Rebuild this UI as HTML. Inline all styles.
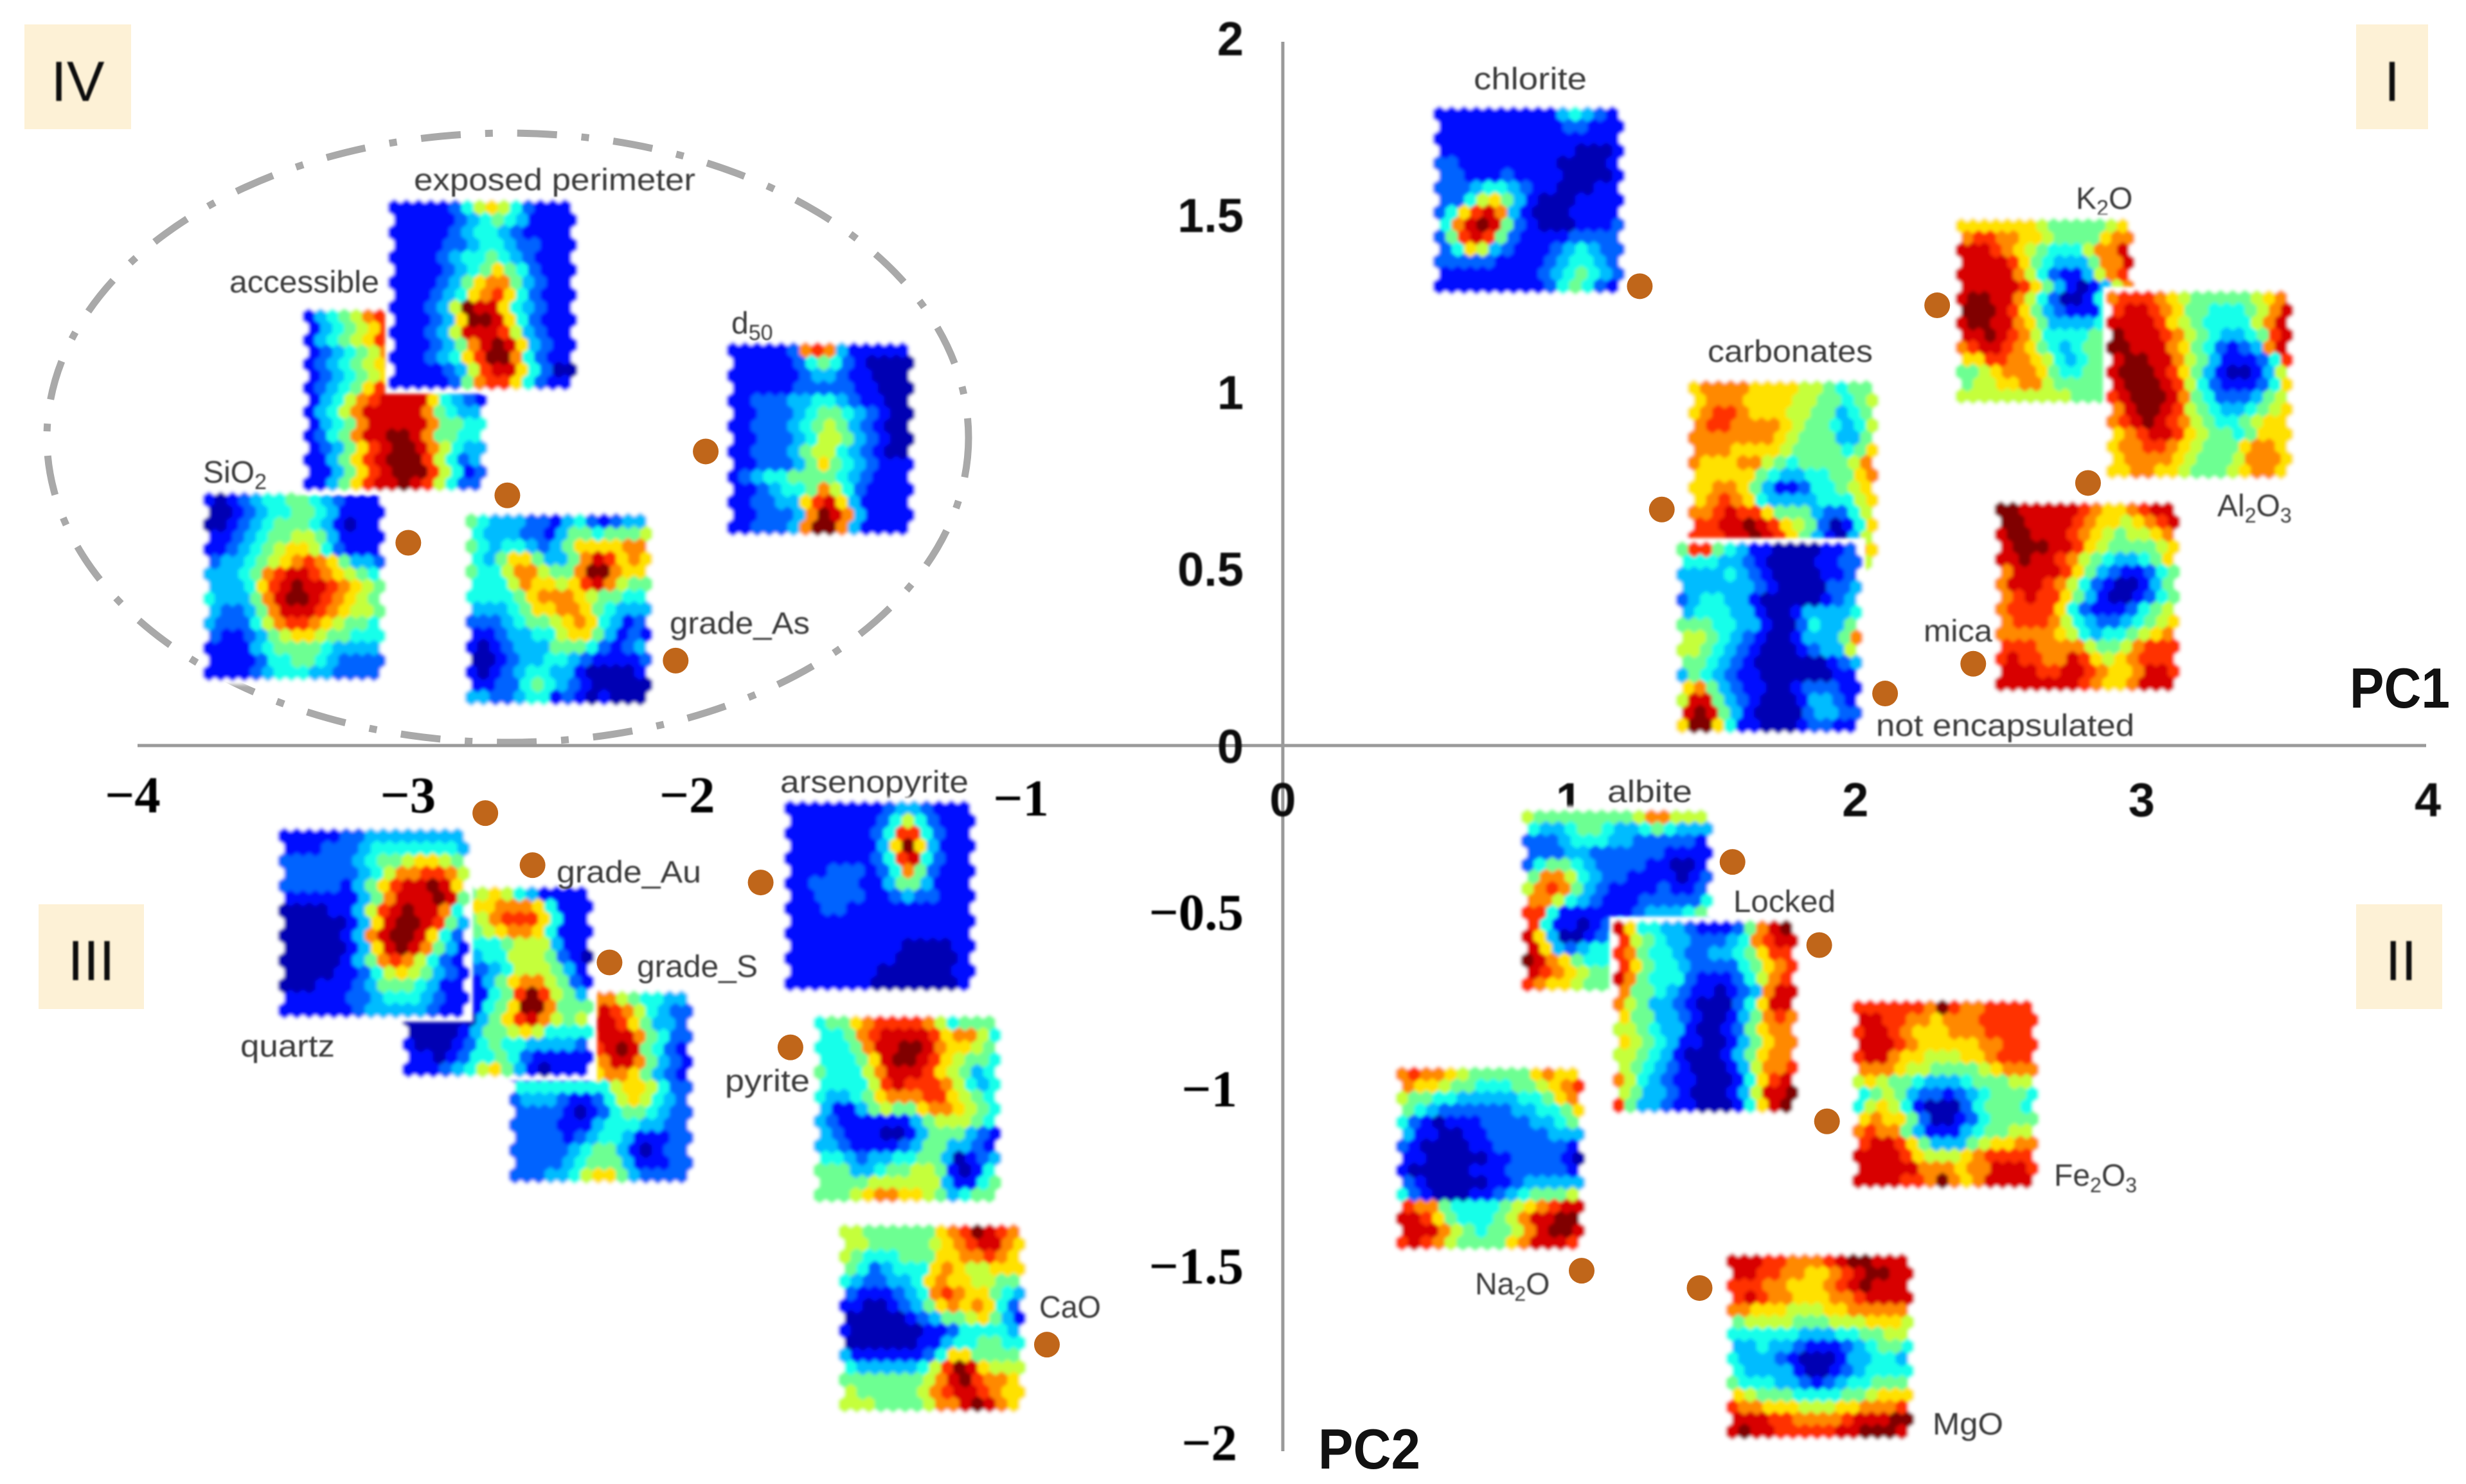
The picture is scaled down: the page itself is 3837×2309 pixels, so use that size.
<!DOCTYPE html>
<html lang="en">
<head>
<meta charset="utf-8">
<title>PC1 PC2 biplot with SOM component planes</title>
<style>
html,body{margin:0;padding:0;background:#fff}
svg{display:block}
.lbl{font-family:"Liberation Sans",sans-serif;font-size:48px;fill:#3a3a3a}
.roman{font-family:"Liberation Sans",sans-serif;font-size:88px;fill:#111;text-anchor:middle}
.pc{font-family:"Liberation Sans",sans-serif;font-weight:bold;font-size:88px;fill:#111}
.tick-pos{font-family:"Liberation Sans",sans-serif;font-weight:bold;font-size:74px;fill:#111}
.tick-neg{font-family:"Liberation Serif",serif;font-weight:bold;font-size:81px;fill:#000}
</style>
</head>
<body>
<svg id="chart" xmlns="http://www.w3.org/2000/svg" width="3837" height="2309" viewBox="0 0 3837 2309">
  <defs>
    <filter id="soft" x="-5%" y="-5%" width="110%" height="110%"><feGaussianBlur stdDeviation="2.6"/></filter>
    <filter id="softText" x="-5%" y="-15%" width="110%" height="130%"><feGaussianBlur stdDeviation="1"/></filter>
  </defs>
  <rect width="3837" height="2309" fill="#fff"/>

  <rect x="38" y="38" width="166" height="163" fill="#fdf1d6"/>
  <rect x="3666" y="38" width="112" height="163" fill="#fdf1d6"/>
  <rect x="60" y="1407" width="164" height="163" fill="#fdf1d6"/>
  <rect x="3666" y="1407" width="134" height="163" fill="#fdf1d6"/>
  <g filter="url(#softText)">
    <text class="roman" x="121" y="157">IV</text>
    <text class="roman" x="3722" y="157">I</text>
    <text class="roman" x="142" y="1525">III</text>
    <text class="roman" x="3736" y="1525">II</text>
  </g>

  <ellipse cx="790" cy="681" rx="717" ry="474" fill="none" stroke="#a9a9a9" stroke-width="11" stroke-dasharray="62 38 12 38"/>
  <line x1="214" y1="1160" x2="3775" y2="1160" stroke="#9a9a9a" stroke-width="5"/>
  <line x1="1996" y1="65" x2="1996" y2="2258" stroke="#9a9a9a" stroke-width="5"/>

  <g id="ticks" filter="url(#softText)"></g>

  <g filter="url(#softText)">
    <text class="lbl" x="3230" y="325">K<tspan dy="10" font-size="34">2</tspan><tspan dy="-10">O</tspan></text>
    <text class="lbl" x="1214" y="1233" textLength="293" lengthAdjust="spacingAndGlyphs">arsenopyrite</text>
  </g>

  <g id="maps"></g>

  <g id="labels" filter="url(#softText)">
    <text class="lbl" x="644" y="296" textLength="438" lengthAdjust="spacingAndGlyphs">exposed perimeter</text>
    <text class="lbl" x="357" y="455" textLength="233" lengthAdjust="spacingAndGlyphs">accessible</text>
    <text class="lbl" x="1138" y="519">d<tspan dy="10" font-size="34">50</tspan></text>
    <text class="lbl" x="316" y="751">SiO<tspan dy="10" font-size="34">2</tspan></text>
    <text class="lbl" x="1042" y="986" textLength="218" lengthAdjust="spacingAndGlyphs">grade_As</text>
    <text class="lbl" x="2293" y="139" textLength="176" lengthAdjust="spacingAndGlyphs">chlorite</text>
    <text class="lbl" x="2657" y="563" textLength="257" lengthAdjust="spacingAndGlyphs">carbonates</text>
    <text class="lbl" x="3450" y="803" font-size="46">Al<tspan dy="10" font-size="32">2</tspan><tspan dy="-10">O</tspan><tspan dy="10" font-size="32">3</tspan></text>
    <text class="lbl" x="2993" y="998" textLength="107" lengthAdjust="spacingAndGlyphs">mica</text>
    <text class="lbl" x="2919" y="1145" textLength="402" lengthAdjust="spacingAndGlyphs">not encapsulated</text>
    <text class="lbl" x="866" y="1373" textLength="225" lengthAdjust="spacingAndGlyphs">grade_Au</text>
    <text class="lbl" x="991" y="1520" textLength="188" lengthAdjust="spacingAndGlyphs">grade_S</text>
    <text class="lbl" x="374" y="1644" textLength="147" lengthAdjust="spacingAndGlyphs">quartz</text>
    <text class="lbl" x="1128" y="1698" textLength="132" lengthAdjust="spacingAndGlyphs">pyrite</text>
    <text class="lbl" x="1617" y="2050" textLength="96" lengthAdjust="spacingAndGlyphs">CaO</text>
    <text class="lbl" x="2501" y="1248" textLength="132" lengthAdjust="spacingAndGlyphs">albite</text>
    <text class="lbl" x="2697" y="1419" textLength="159" lengthAdjust="spacingAndGlyphs">Locked</text>
    <text class="lbl" x="3196" y="1845" font-size="46">Fe<tspan dy="10" font-size="32">2</tspan><tspan dy="-10">O</tspan><tspan dy="10" font-size="32">3</tspan></text>
    <text class="lbl" x="2295" y="2014" font-size="46">Na<tspan dy="10" font-size="32">2</tspan><tspan dy="-10">O</tspan></text>
    <text class="lbl" x="3007" y="2232" textLength="110" lengthAdjust="spacingAndGlyphs">MgO</text>
  </g>

  <g id="dots"></g>

  <text class="pc" x="3656" y="1101" textLength="156" lengthAdjust="spacingAndGlyphs">PC1</text>
  <text class="pc" x="2051" y="2285" textLength="159" lengthAdjust="spacingAndGlyphs">PC2</text>
</svg>

<script>
// Axis tick values
const xTickValues = [-4, -3, -2, -1, 0, 1, 2, 3, 4];
const yTickValues = [2, 1.5, 1, 0.5, 0, -0.5, -1, -1.5, -2];

// PCA loadings
const loadingNames = ['exposed-perimeter','sio2','d50','grade-as','chlorite','k2o','carbonates','al2o3','mica','not-encapsulated','quartz','grade-au','grade-s','arsenopyrite','pyrite','cao','albite','locked','fe2o3','na2o','mgo'];
const pc1Scores = [-2.709,-3.055,-2.016,-2.121,1.247,2.286,1.324,2.813,2.412,2.104,-2.786,-2.621,-2.352,-1.824,-1.72,-0.824,1.571,1.874,1.901,1.044,1.456];
const pc2Scores = [0.707,0.573,0.831,0.24,1.298,1.244,0.667,0.742,0.231,0.147,-0.191,-0.338,-0.613,-0.387,-0.853,-1.693,-0.329,-0.564,-1.062,-1.484,-1.533];

// SOM component planes: 15 rows of 15 levels, base-12 digits (0 low .. b high)
const chloriteGrid = ["111111111134321","111111111122111","111111111111111","111111111110001","221111111100001","221112111100001","222344321100011","224675310001111","2479a8310001111","48aba5210001112","259a95211112222","247632111234322","222221111234432","111111112345432","111111111245421"];
const carbonatesGrid = ["788887777665455","788877776655456","789987776655345","899888876554346","888888876555335","888777765555457","877788654555568","777775433445578","778875311244567","789874333344467","889a99755532246","99aaba976520147","999aaba97531036","888888888888887","777777777777776"];
const notEncapsulatedGrid = ["599543110000112","444332100001122","333343210000112","333333210000223","234433100000123","344433100133334","555443310024335","665432100133358","665432100012336","554321000000123","354321100000011","785321100122211","6aa532100013321","aba531000023322","7bb741100012211"];
const k2oGrid = ["777777765555567","899887765555788","aaa98765444688a","aaaa9754333588a","aaaaa8642113689","aaaaa9753101368","abbaa8642001467","bbba97532111456","abbaa8753333455","aaba98644445555","89aa98754345555","779988764345555","556788875445555","566778865555555","666666666655555"];
const al2o3Grid = ["899987655555678","9aa98755444568a","aaaa9765444468a","baaa9865433459a","bbaaa875421238a","abbaa8653111249","abbba9753100136","abbba9642111247","9abbba854222356","8abba9654334567","89aba9865445677","789aa9765545777","788998765557887","788887655568887","778877655567887"];
const micaGrid = ["bbaaaaa987789aa","bbaaaa98776789a","abbaaa987656678","abbbaa976555567","aabaa9865433457","8aaaa9753211245","8aaa98642100135","89a997531001245","899997421112456","899986432234567","888887643445678","999888865568999","9a9988a97678999","aaa99aa98778aa9","aaaaaaa98778aaa"];
const exposedPerimeterGrid = ["111112467642111","111112345431111","111112344321111","111122344322111","111123445432111","111123457542111","111123578853211","111234789742111","111236baa743211","111237bba742111","111236aaa963211","1112358aba73211","11123479bb84211","11112369aa74200","111112589974211"];
const accessibleGrid = ["1345689aaa85432","1345679aaa85432","1345679aaa85432","1234568aaa85432","1234567aaa85432","1234567aaa85432","1234579aaa95321","134689aaaa74321","13468aaaaa85433","13458aaaaa85544","12458aabba85544","123579abba86433","113579abbb96423","113579abbb96412","113579aaba96422"];
const d50Grid = ["111112898311111","111112454210000","111111233211000","111112222211000","112223344321100","112223455432100","112223456532100","112223466532100","112223566432100","112223575432111","123445555432111","112344586421111","11223379a731111","1122238ba831111","1122238bb831111"];
const sio2Grid = ["101234455432111","001234455431111","001234555431011","112345566531111","112345677642111","233456789875332","3334589aa987654","333479abaa98765","433358abba98765","322358aaa987665","322246899876554","211235677655444","111134555543333","111124455432222","111123444332222"];
const gradeAsGrid = ["543332213421233","433322135545556","543443235777788","4357753358a9787","5446886558bb877","4446877679a8655","444457888765544","333457788754333","222345567874312","112334467753121","101233355542123","001233443211112","101234433100001","112245432100000","332234412101000"];
const quartzGrid = ["111112233333333","111222344444443","222222345567765","222222346889986","2222213579aaba7","111111358aaaba5","000011369abaa84","00000137abba953","00000138abba742","00000137aba8531","000001358986421","000011246765321","000111235554311","111112234443211","111111233333211"];
const gradeAuGrid = ["555555676431111","555557788874111","555555689997411","555555678874111","444444445666311","333333446665210","222222234666531","111111357886521","1111111459b9653","111111457bb8555","0000003579a8656","000013556764444","100012454433332","110124454211111","111234675310111"];
const gradeSGrid = ["111111188654433","1111118a9864322","1111111aa975332","1111119aaa85422","11111119aba5421","11111178aa85321","111111178875321","444444446776422","233321124676432","222210124554322","222211134443322","222212344311122","222223455310122","222234555311122","222334677532222"];
const arsenopyriteGrid = ["111111112332111","111111124642111","111111124994211","111111137b73111","1111111249a4211","111222124852111","112222113553111","112222112322111","111221111111111","111111111111111","111111111111111","111111111000011","111111111000001","111111100000011","111111100000001"];
const pyriteGrid = ["455789999864555","44589aaaa978864","44458aabba87765","44457abba976554","544468aaa976534","444469a99986434","433457888997654","311356557887654","321111113566654","321110013555321","332111123553321","443233445530123","555334556651014","555566666631145","555678877653455"];
const caoGrid = ["66555555789ba98","66555556789aa87","654445557788987","542344478766777","432233478776655","211123489877543","110012357878742","000001235567531","100000011244443","000000113445544","311111124775555","433333469ba7666","555555568ab9887","655555689aa9877","6665555688aba87"];
const albiteGrid = ["655555555688666","433455433454333","222344433222221","222332222221111","245543222211001","588643221111012","689853211112112","886432111222224","994111111233345","941101233333333","a73001233333333","a73234444444444","ba8754444444444","a98765555555555","987765555555555"];
const lockedGrid = ["a744332111258ab","9654332223489aa","985443223345799","975443222245789","a85444211124689","8554321101238aa","8653321000247aa","755332100135898","665433100125788","765431100135788","665431000135788","654321000136889","86432110001479a","653321000136aab","9533211000147ab"];
const fe2o3Grid = ["9999998b9889999","aa9988788899999","9aa987778889999","aaa987777788999","9aa877666778999","888766555567888","676554333455566","456532212345554","467641000245554","787752001245555","898853111345566","9aa975333567788","aaaa97666789999","aaaaa888788aaa9","aaaa998b878aaaa"];
const na2oGrid = ["898876555557877","877655444556789","655443333344578","543222222334457","421011122223345","311001122222333","210000112222221","110000011222210","100000111222221","210000011233333","421000112345556","9885444456789aa","aa975444568aabb","aaa86545568abba","9a986555578aaa9"];
const mgoGrid = ["aaa998889abbaaa","aa99887789abbaa","9998877789abaaa","9a988777889aaaa","887776667788888","566665556667776","444444333445566","334332111234554","433321000133443","433331001234444","544433212344555","765554444556777","988777666778889","aaa9988889aaabb","abaa99999aabbba"];

const SVGNS = 'http://www.w3.org/2000/svg';

// Axis functions
function xScale(v) { return 1996 + v * 445.4; }
function yScale(v) { return 1160 - v * 550.6; }

function jet(t) {
  const c = function (x) { return Math.round(255 * Math.max(0, Math.min(1, x))); };
  return 'rgb(' + c(1.5 - Math.abs(4 * t - 3)) + ',' + c(1.5 - Math.abs(4 * t - 2)) + ',' + c(1.5 - Math.abs(4 * t - 1)) + ')';
}

function drawTicks() {
  const g = document.getElementById('ticks');
  const xNudge = { '-4': -8, '-3': -25, '-2': -36, '-1': 38 };
  xTickValues.forEach(function (v) {
    const el = document.createElementNS(SVGNS, 'text');
    
    
    el.setAttribute('class', v < 0 ? 'tick-neg' : 'tick-pos');
    el.setAttribute('text-anchor', 'middle');
    el.setAttribute('x', xScale(v) + (xNudge[v] || 0));
    el.setAttribute('y', v === -1 ? 1269 : (v < 0 ? 1264 : 1270));
    el.textContent = v < 0 ? '\u2212' + Math.abs(v) : String(v);
    g.appendChild(el);
  });
  yTickValues.forEach(function (v) {
    const el = document.createElementNS(SVGNS, 'text');
    
    
    el.setAttribute('class', v < 0 ? 'tick-neg' : 'tick-pos');
    el.setAttribute('text-anchor', 'end');
    el.setAttribute('x', v === -1 || v === -2 ? 1925 : 1935);
    el.setAttribute('y', yScale(v) + (v < 0 ? 11 : 27));
    el.textContent = v < 0 ? '\u2212' + Math.abs(v) : String(v);
    g.appendChild(el);
  });
}

function drawMap(parent, name, grid, left, top, width, height) {
  const g = document.createElementNS(SVGNS, 'g');
  
  
  g.setAttribute('filter', 'url(#soft)');
  const back = document.createElementNS(SVGNS, 'rect');
  
  
  back.setAttribute('x', left - 5);
  back.setAttribute('y', top - 5);
  back.setAttribute('width', width + 10);
  back.setAttribute('height', height + 10);
  back.setAttribute('fill', '#fff');
  g.appendChild(back);
  const dx = width / 15.5;
  const dy = height / 15.33;
  const hw = dx / 2;
  const ry = dy * 2 / 3;
  grid.forEach(function (row, r) {
    row.split('').forEach(function (ch, c) {
      const value = parseInt(ch, 12);
      const cx = left + hw + c * dx + (r % 2 ? hw : 0);
      const cy = top + ry + r * dy;
      const pts = [[0,-ry],[hw,-ry/2],[hw,ry/2],[0,ry],[-hw,ry/2],[-hw,-ry/2]]
        .map(function (p) { return (cx + p[0]).toFixed(1) + ',' + (cy + p[1]).toFixed(1); }).join(' ');
      const cell = document.createElementNS(SVGNS, 'polygon');
      
      
      cell.setAttribute('points', pts);
      const col = jet(0.05 + 0.95 * value / 11);
      cell.setAttribute('fill', col);
      cell.setAttribute('stroke', col);
      cell.setAttribute('stroke-width', '0.6');
      g.appendChild(cell);
    });
  });
  parent.appendChild(g);
}

function drawMaps() {
  const parent = document.getElementById('maps');
  // Paint order matters: later planes overlap earlier ones, with a white margin.
  drawMap(parent, 'sio2', sio2Grid, 316, 765, 284, 295);
  drawMap(parent, 'accessible', accessibleGrid, 471, 480, 287, 285);
  drawMap(parent, 'exposed-perimeter', exposedPerimeterGrid, 604, 310, 294, 298);
  drawMap(parent, 'd50', d50Grid, 1131, 532, 292, 302);
  drawMap(parent, 'grade-as', gradeAsGrid, 724, 798, 291, 300);
  drawMap(parent, 'chlorite', chloriteGrid, 2230, 165, 298, 293);
  drawMap(parent, 'carbonates', carbonatesGrid, 2626, 591, 297, 297);
  drawMap(parent, 'not-encapsulated', notEncapsulatedGrid, 2608, 842, 290, 300);
  drawMap(parent, 'k2o', k2oGrid, 3043, 339, 278, 290);
  drawMap(parent, 'al2o3', al2o3Grid, 3277, 451, 291, 295);
  drawMap(parent, 'mica', micaGrid, 3104, 780, 288, 297);
  drawMap(parent, 'grade-s', gradeSGrid, 792, 1541, 287, 301);
  drawMap(parent, 'grade-au', gradeAuGrid, 626, 1378, 298, 299);
  drawMap(parent, 'quartz', quartzGrid, 433, 1288, 298, 297);
  drawMap(parent, 'arsenopyrite', arsenopyriteGrid, 1220, 1245, 299, 298);
  drawMap(parent, 'pyrite', pyriteGrid, 1266, 1579, 292, 293);
  drawMap(parent, 'cao', caoGrid, 1305, 1904, 291, 294);
  drawMap(parent, 'albite', albiteGrid, 2367, 1259, 299, 285);
  drawMap(parent, 'locked', lockedGrid, 2509, 1431, 289, 302);
  drawMap(parent, 'fe2o3', fe2o3Grid, 2882, 1555, 290, 295);
  drawMap(parent, 'na2o', na2oGrid, 2172, 1659, 294, 287);
  drawMap(parent, 'mgo', mgoGrid, 2686, 1950, 292, 290);
}

function drawDots() {
  const g = document.getElementById('dots');
  pc1Scores.forEach(function (v, i) {
    const dot = document.createElementNS(SVGNS, 'circle');
    
    
    dot.setAttribute('cx', xScale(v));
    dot.setAttribute('cy', yScale(pc2Scores[i]));
    dot.setAttribute('r', 20);
    dot.setAttribute('fill', '#c0661a');
    g.appendChild(dot);
  });
}

drawTicks();
drawMaps();
drawDots();
</script>
</body>
</html>
